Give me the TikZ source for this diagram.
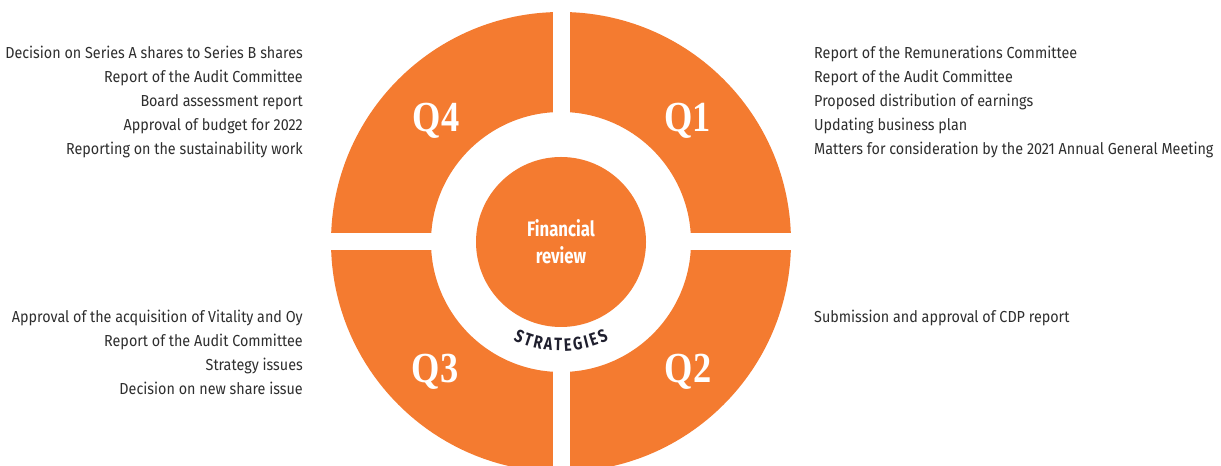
\documentclass[tikz,border=0pt]{standalone}
\usepackage{fontspec}
\setmainfont{Fira Sans}[FakeStretch=0.9]
\newfontfamily\finfont{Fira Sans}[FakeStretch=0.8]
\newfontfamily\qfont{Liberation Serif}[FakeStretch=0.85]
\usetikzlibrary{decorations.text}
\definecolor{qorange}{HTML}{F47B30}
\definecolor{txtgray}{HTML}{2E2E2E}
\definecolor{stratcol}{HTML}{1F1F2E}
\tikzset{
  lefttext/.style={anchor=base east, inner sep=0pt, text=txtgray, font=\fontsize{16}{16}\selectfont},
  righttext/.style={anchor=base west, inner sep=0pt, text=txtgray, font=\fontsize{16}{16}\selectfont},
  qlabel/.style={anchor=base, inner sep=0pt, text=white, font=\qfont\bfseries\fontsize{43}{43}\selectfont},
}
\begin{document}
\begin{tikzpicture}[x=1bp,y=1bp]
\useasboundingbox (0,0) rectangle (1221,466);
\coordinate (c) at (561,224);
% ring
\fill[qorange, even odd rule] (c) circle[radius=230] (c) circle[radius=130];
\fill[white] (320,215.5) rectangle (802,232.5);
\fill[white] (552.5,-10) rectangle (569.5,470);
% centre
\node[circle, fill=qorange, minimum size=170bp, inner sep=0pt, text=white, align=center,
  font=\finfont\bfseries\fontsize{21}{27}\selectfont] (fin) at (c) {Financial\\review};
% strategies
\path[decorate, decoration={text along path,
   text={|\finfont\bfseries\fontsize{18}{18}\selectfont\color{stratcol}|STRATEGIES},
   text align={fit to path}}]
  (c) ++(244:109) arc[start angle=244, end angle=296, radius=109];
% quarter labels
\node[qlabel] (q4) at (436,334) {Q4};
\node[qlabel] (q1) at (687.5,334) {Q1};
\node[qlabel] (q3) at (435,83) {Q3};
\node[qlabel] (q2) at (688,83) {Q2};
% texts
\foreach \t [count=\i] in {Decision on Series A shares to Series B shares,Report of the Audit Committee,Board assessment report,Approval of budget for 2022,Reporting on the sustainability work}
  \node[lefttext] (tl\i) at (303,431-24*\i) {\t};
\foreach \t [count=\i] in {Report of the Remunerations Committee,Report of the Audit Committee,Proposed distribution of earnings,Updating business plan,Matters for consideration by the 2021 Annual General Meeting}
  \node[righttext] (tr\i) at (814,431-24*\i) {\t};
\foreach \t [count=\i] in {Approval of the acquisition of Vitality and Oy,Report of the Audit Committee,Strategy issues,Decision on new share issue}
  \node[lefttext] (bl\i) at (303,167-24*\i) {\t};
\node[righttext] (br1) at (814,143) {Submission and approval of CDP report};
\end{tikzpicture}
\end{document}
